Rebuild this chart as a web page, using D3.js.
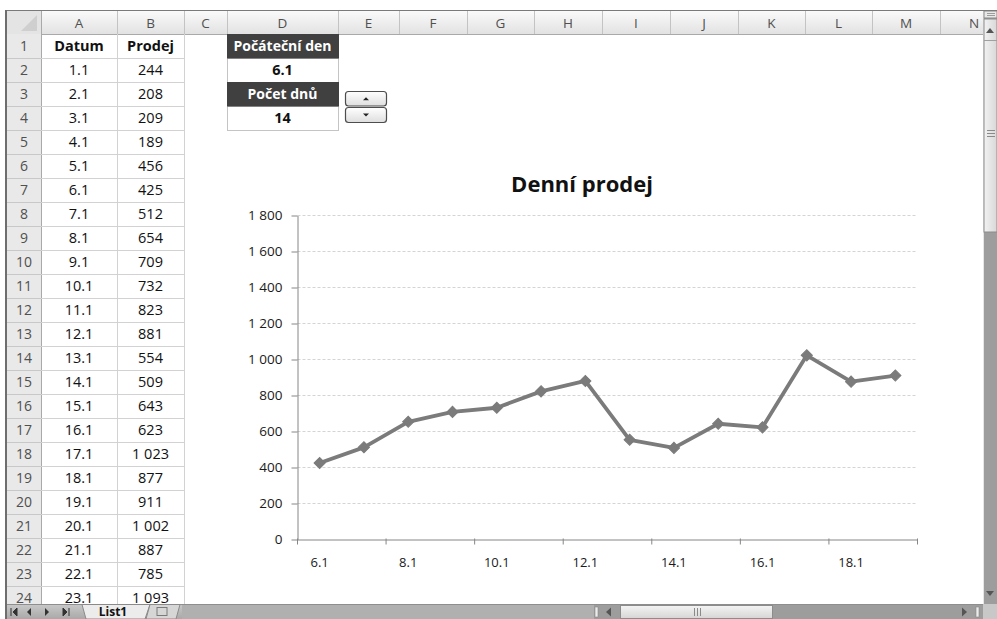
<!DOCTYPE html>
<html><head><meta charset="utf-8">
<script src="https://cdn.jsdelivr.net/npm/d3@7"></script>
<style>
body{margin:0;background:#fff}
svg{display:block}
text{font-family:"Open Sans",sans-serif}
</style>
</head><body>
<svg id="c" width="997" height="619"></svg>
<script>
// ---------------- DATA ----------------
const colLetters = ["A","B","C","D","E","F","G","H","I","J","K","L","M","N"];
const tableHeaders = ["Datum","Prodej"];
const dates = ["1.1","2.1","3.1","4.1","5.1","6.1","7.1","8.1","9.1","10.1","11.1","12.1",
               "13.1","14.1","15.1","16.1","17.1","18.1","19.1","20.1","21.1","22.1","23.1"];
const sales = [244,208,209,189,456,425,512,654,709,732,823,881,
               554,509,643,623,1023,877,911,1002,887,785,1093];
const controlLabels = ["Počáteční den","Počet dnů"];
const startDay = "6.1";
const dayCount = 14;
const chartTitle = "Denní prodej";
const yTicks = [0,200,400,600,800,1000,1200,1400,1600,1800];
const sheetName = "List1";

// ---------------- LAYOUT ----------------
const colWidths = [76,67,43,111,61,68,67,68,68,68,67,67,68,68];
const S = {x0:7, y0:11, hdrB:34, rowH:24, rhR:41, right:983, bottom:604, rows:24};
const colEdges = [S.rhR];
colWidths.forEach(w => colEdges.push(colEdges[colEdges.length-1] + w));
const rowTop = i => S.hdrB + (i-1)*S.rowH;   // i = 1-based row
const rowMid = i => rowTop(i) + 11.5;

const loc = d3.formatLocale({decimal:",", thousands:"\u00a0", grouping:[3], currency:["","\u00a0Kč"]});
const fmt = loc.format(",d");

const svg = d3.select("#c");
const defs = svg.append("defs");
function grad(id, stops, horiz){
  const lg = defs.append("linearGradient").attr("id", id)
    .attr("x1",0).attr("y1",0).attr("x2", horiz?1:0).attr("y2", horiz?0:1);
  stops.forEach(([o,c]) => lg.append("stop").attr("offset",o).attr("stop-color",c));
}
grad("hdrG", [[0,"#fafafa"],[1,"#e2e2e2"]]);
grad("btnG", [[0,"#ffffff"],[1,"#dedede"]]);
grad("tabBarG", [[0,"#c9c9c9"],[1,"#a9a9a9"]]);
grad("thumbV", [[0,"#f2f2f2"],[1,"#d8d8d8"]], true);
grad("thumbH", [[0,"#f4f4f4"],[1,"#d6d6d6"]]);
defs.append("clipPath").attr("id","sheetClip").append("rect")
  .attr("x",S.x0).attr("y",S.y0).attr("width",S.right-S.x0).attr("height",S.bottom-S.y0);

svg.append("rect").attr("width",997).attr("height",619).attr("fill","#fff");
const sheet = svg.append("g").attr("clip-path","url(#sheetClip)");

// column header
sheet.append("rect").attr("x",S.x0).attr("y",S.y0).attr("width",S.right-S.x0).attr("height",S.hdrB-S.y0)
  .attr("fill","url(#hdrG)");
sheet.selectAll("line.csep").data(colEdges).join("line").attr("class","csep")
  .attr("x1",d=>d+0.5).attr("x2",d=>d+0.5).attr("y1",S.y0).attr("y2",S.hdrB)
  .attr("stroke","#c3c3c3");
sheet.selectAll("text.col").data(colLetters).join("text").attr("class","col")
  .attr("x",(d,i)=>(colEdges[i]+colEdges[i+1])/2).attr("y",23)
  .attr("text-anchor","middle").attr("dominant-baseline","central")
  .attr("font-size",13.5).attr("fill","#505050").text(d=>d);
sheet.append("line").attr("x1",S.x0).attr("x2",S.right).attr("y1",S.hdrB+0.5).attr("y2",S.hdrB+0.5)
  .attr("stroke","#a9a9a9");

// row header
const rowNums = d3.range(1, S.rows+1);
sheet.append("rect").attr("x",S.x0).attr("y",S.hdrB).attr("width",S.rhR-S.x0).attr("height",S.bottom-S.hdrB)
  .attr("fill","#e9e9e9");
sheet.selectAll("line.rsep").data(rowNums).join("line").attr("class","rsep")
  .attr("x1",S.x0).attr("x2",S.rhR).attr("y1",d=>rowTop(d+1)+0.5).attr("y2",d=>rowTop(d+1)+0.5)
  .attr("stroke","#c8c8c8");
sheet.append("line").attr("x1",S.rhR+0.5).attr("x2",S.rhR+0.5).attr("y1",S.y0).attr("y2",S.bottom)
  .attr("stroke","#a9a9a9");
sheet.selectAll("text.rown").data(rowNums).join("text").attr("class","rown")
  .attr("x",24).attr("y",d=>rowMid(d))
  .attr("text-anchor","middle").attr("dominant-baseline","central")
  .attr("font-size",14).attr("fill","#505050").text(d=>d);

// corner
sheet.append("rect").attr("x",S.x0).attr("y",S.y0).attr("width",S.rhR-S.x0).attr("height",S.hdrB-S.y0)
  .attr("fill","#e4e4e4");
sheet.append("path").attr("d","M37,15L37,31L21,31Z").attr("fill","#cfcfcf");

// table grid (A:B)
const tRight = colEdges[2];
sheet.selectAll("line.gh").data(rowNums).join("line").attr("class","gh")
  .attr("x1",S.rhR).attr("x2",tRight).attr("y1",d=>rowTop(d+1)+0.5).attr("y2",d=>rowTop(d+1)+0.5)
  .attr("stroke","#d2d2d2");
sheet.selectAll("line.gv").data([colEdges[1],colEdges[2]]).join("line").attr("class","gv")
  .attr("x1",d=>d+0.5).attr("x2",d=>d+0.5).attr("y1",S.hdrB).attr("y2",S.bottom)
  .attr("stroke","#d2d2d2");

// table text
const cA = (colEdges[0]+colEdges[1])/2, cB = (colEdges[1]+colEdges[2])/2;
sheet.selectAll("text.th").data(tableHeaders).join("text").attr("class","th")
  .attr("x",(d,i)=>i?cB:cA).attr("y",rowMid(1))
  .attr("text-anchor","middle").attr("dominant-baseline","central")
  .attr("font-size",14.5).attr("font-weight",700).attr("fill","#111").text(d=>d);
sheet.selectAll("text.td").data(dates).join("text").attr("class","td")
  .attr("x",cA).attr("y",(d,i)=>rowMid(i+2))
  .attr("text-anchor","middle").attr("dominant-baseline","central")
  .attr("font-size",14.5).attr("fill","#111").text(d=>d);
sheet.selectAll("text.tv").data(sales).join("text").attr("class","tv")
  .attr("x",cB).attr("y",(d,i)=>rowMid(i+2))
  .attr("text-anchor","middle").attr("dominant-baseline","central")
  .attr("font-size",14.5).attr("fill","#111").text(d=>fmt(d));

// control block D1:D4
const dX = colEdges[3], dW = colWidths[3], cD = dX + dW/2;
const ctrlVals = [startDay, String(dayCount)];
[0,1].forEach(k => {
  const r1 = 1 + 2*k, r2 = 2 + 2*k;
  sheet.append("rect").attr("x",dX+0.5).attr("y",rowTop(r2)+0.5).attr("width",dW).attr("height",S.rowH)
    .attr("fill","#fff").attr("stroke","#c4c4c4");
  sheet.append("rect").attr("x",dX).attr("y",rowTop(r1)).attr("width",dW+1).attr("height",S.rowH+0.5)
    .attr("fill","#404040");
  sheet.append("text").attr("x",cD).attr("y",rowMid(r1)).attr("text-anchor","middle")
    .attr("dominant-baseline","central").attr("font-size",14).attr("font-weight",700)
    .attr("fill","#fff").text(controlLabels[k]);
  sheet.append("text").attr("x",cD).attr("y",rowMid(r2)).attr("text-anchor","middle")
    .attr("dominant-baseline","central").attr("font-size",14.5).attr("font-weight",700)
    .attr("fill","#111").text(ctrlVals[k]);
});

// spinner
[[91.5,14.5,"up"],[107.5,15,"down"]].forEach(([yy,hh,dir]) => {
  sheet.append("rect").attr("x",345.5).attr("y",yy).attr("width",41).attr("height",hh).attr("rx",3)
    .attr("fill","url(#btnG)").attr("stroke","#4d4d4d").attr("stroke-width",1.2);
  const cy = yy + hh/2;
  const p = dir==="up" ? `M363,${cy+1.5}L369,${cy+1.5}L366,${cy-1.5}Z` : `M363,${cy-1.5}L369,${cy-1.5}L366,${cy+1.5}Z`;
  sheet.append("path").attr("d",p).attr("fill","#222");
});

// ---------------- CHART ----------------
const si = dates.indexOf(startDay);
const cats = dates.slice(si, si+dayCount);
const vals = sales.slice(si, si+dayCount);
const series = cats.map((c,i)=>({c, v: vals[i]}));

const x = d3.scaleBand().domain(cats).range([297.5, 917.5]);
const y = d3.scaleLinear().domain([0,1800]).range([539.5, 215.5]);
const ch = sheet.append("g");

ch.append("text").attr("x",582).attr("y",183).attr("text-anchor","middle")
  .attr("dominant-baseline","central").attr("font-size",22).attr("font-weight",700)
  .attr("fill","#111").text(chartTitle);

ch.selectAll("line.grid").data(yTicks.filter(d=>d>0)).join("line").attr("class","grid")
  .attr("x1",x.range()[0]).attr("x2",x.range()[1]).attr("y1",d=>y(d)).attr("y2",d=>y(d))
  .attr("stroke","#d4d4d4").attr("stroke-dasharray","3,2");

const yAx = ch.append("g").attr("transform",`translate(${x.range()[0]},0)`)
  .call(d3.axisLeft(y).tickValues(yTicks).tickSize(6).tickSizeOuter(0).tickPadding(9).tickFormat(fmt));
yAx.select(".domain").attr("stroke","#868686");
yAx.selectAll(".tick line").attr("stroke","#868686");
yAx.selectAll(".tick text").attr("font-family","Open Sans").attr("font-size",13.5).attr("fill","#1a1a1a");

const xAx = ch.append("g").attr("transform",`translate(0,${y(0)})`)
  .call(d3.axisBottom(x).tickSize(0).tickSizeOuter(0).tickPadding(18)
    .tickFormat((d,i)=> i%2===0 ? d : ""));
xAx.select(".domain").attr("stroke","#868686");
xAx.selectAll(".tick text").attr("font-family","Open Sans").attr("font-size",13).attr("fill","#1a1a1a");
const edgeIdx = d3.range(0, cats.length+1, 2);
xAx.selectAll("line.et").data(edgeIdx).join("line").attr("class","et")
  .attr("x1",i=>x.range()[0]+i*x.step()).attr("x2",i=>x.range()[0]+i*x.step())
  .attr("y1",-1).attr("y2",5).attr("stroke","#868686");

const lineGen = d3.line().x(d=>x(d.c)+x.bandwidth()/2).y(d=>y(d.v));
ch.append("path").datum(series).attr("d",lineGen).attr("fill","none")
  .attr("stroke","#7b7b7b").attr("stroke-width",3.8).attr("stroke-linejoin","round");
const diamond = d3.symbol().type(d3.symbolSquare).size(62);
ch.selectAll("path.mk").data(series).join("path").attr("class","mk")
  .attr("transform",d=>`translate(${x(d.c)+x.bandwidth()/2},${y(d.v)}) rotate(45)`)
  .attr("d",diamond).attr("fill","#7b7b7b").attr("stroke","#7b7b7b").attr("stroke-width",1);

// ---------------- WINDOW CHROME ----------------
// vertical scrollbar
const vs = svg.append("g");
vs.append("rect").attr("x",983).attr("y",11).attr("width",14).attr("height",593).attr("fill","#9d9d9d");
vs.append("line").attr("x1",983.5).attr("x2",983.5).attr("y1",11).attr("y2",604).attr("stroke","#e6e6e6");
vs.append("rect").attr("x",984).attr("y",11).attr("width",13).attr("height",7).attr("fill","#e8e8e8").attr("stroke","#8a8a8a");
vs.append("path").attr("d","M987,13.5H995M987,15.5H995").attr("stroke","#888").attr("stroke-width",0.8);
vs.append("rect").attr("x",984).attr("y",19).attr("width",13).attr("height",213).attr("fill","url(#thumbV)").attr("stroke","#8c8c8c");
vs.append("path").attr("d","M986,33L994,33L990,28Z").attr("fill","#555");
vs.append("line").attr("x1",984).attr("x2",997).attr("y1",40.5).attr("y2",40.5).attr("stroke","#a0a0a0");
vs.append("path").attr("d","M987,130.5H995M987,133.5H995M987,136.5H995").attr("stroke","#8a8a8a");
vs.append("path").attr("d","M986,591L994,591L990,596Z").attr("fill","#555");

// tab bar
const TY = S.bottom;
const tb = svg.append("g");
tb.append("rect").attr("x",6).attr("y",TY).attr("width",977).attr("height",619-TY).attr("fill","url(#tabBarG)");
tb.append("line").attr("x1",6).attr("x2",983).attr("y1",TY+0.5).attr("y2",TY+0.5).attr("stroke","#8e8e8e");
tb.append("path").attr("d","M11,608V616M17,608L13,612L17,616Z").attr("stroke","#333").attr("fill","#333");
tb.append("path").attr("d","M31,608L27,612L31,616Z").attr("fill","#333");
tb.append("path").attr("d","M45,608L49,612L45,616Z").attr("fill","#333");
tb.append("path").attr("d","M69,608V616M63,608L67,612L63,616Z").attr("stroke","#333").attr("fill","#333");
tb.append("path").attr("d",`M82,${TY+0.5}H150L145,619H86Z`).attr("fill","#ececec").attr("stroke","#8a8a8a");
tb.append("text").attr("x",113).attr("y",611.5).attr("text-anchor","middle").attr("dominant-baseline","central")
  .attr("font-size",12).attr("font-weight",700).attr("fill","#111").text(sheetName);
tb.append("path").attr("d",`M150,${TY+0.5}H180L176,619H146Z`).attr("fill","#d6d6d6").attr("stroke","#8a8a8a");
tb.append("rect").attr("x",157).attr("y",607.5).attr("width",10).attr("height",8).attr("fill","none").attr("stroke","#7a7a7a");
tb.append("rect").attr("x",182).attr("y",TY+1).attr("width",412).attr("height",619-TY-1).attr("fill","#b0b0b0");

// horizontal scrollbar
const hs = svg.append("g");
hs.append("rect").attr("x",594).attr("y",TY+1).attr("width",389).attr("height",619-TY-1).attr("fill","#9d9d9d");
hs.append("rect").attr("x",595).attr("y",607).attr("width",3).attr("height",10).attr("fill","#ececec").attr("stroke","#888").attr("stroke-width",0.6);
hs.append("path").attr("d","M611,607.5L606,612L611,616.5Z").attr("fill","#555");
hs.append("rect").attr("x",620.5).attr("y",TY+1.5).attr("width",152).attr("height",619-TY-2).attr("fill","url(#thumbH)").attr("stroke","#8c8c8c");
hs.append("path").attr("d","M694.5,608V616M697.5,608V616M700.5,608V616").attr("stroke","#8a8a8a");
hs.append("path").attr("d","M962,607.5L967,612L962,616.5Z").attr("fill","#555");
hs.append("rect").attr("x",976).attr("y",607).attr("width",3).attr("height",10).attr("fill","#ececec").attr("stroke","#888").attr("stroke-width",0.6);
hs.append("rect").attr("x",983).attr("y",TY).attr("width",14).attr("height",619-TY).attr("fill","#c8c8c8");

// frame
svg.append("line").attr("x1",5).attr("x2",997).attr("y1",10.5).attr("y2",10.5).attr("stroke","#7a7a7a");
svg.append("line").attr("x1",6).attr("x2",6).attr("y1",10).attr("y2",619).attr("stroke","#6e6e6e").attr("stroke-width",2);
</script>
</body></html>
